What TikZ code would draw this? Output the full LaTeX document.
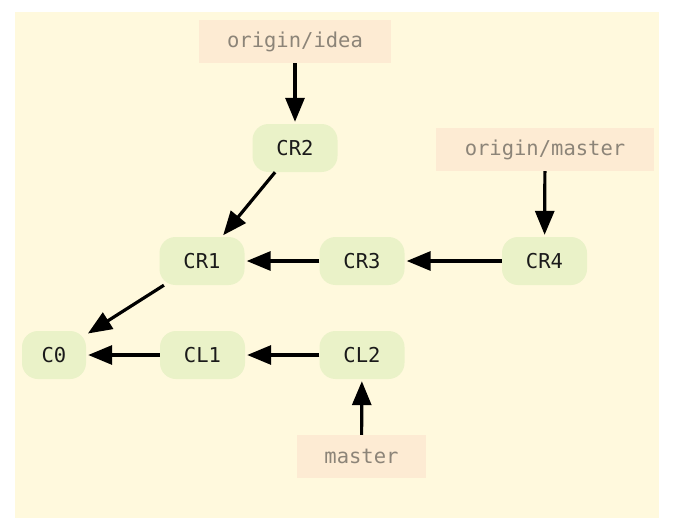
\documentclass[tikz,border=0pt]{standalone}
\usepackage{fontspec}
\usetikzlibrary{arrows.meta}
\newfontfamily\monof{DejaVu Sans Mono}
\definecolor{bgyellow}{HTML}{FFF9DD}
\definecolor{refpeach}{HTML}{FDEBD3}
\definecolor{commitgreen}{HTML}{EAF2C8}
\definecolor{reftext}{HTML}{8C8478}
\definecolor{committext}{HTML}{1A1A1A}
\begin{document}
\begin{tikzpicture}[x=1pt,y=-1pt,
  commit/.style={fill=commitgreen, rounded corners=16pt, minimum width=85pt,
    minimum height=48pt, inner sep=0pt, text=committext,
    font=\monof\fontsize{20.5}{24}\selectfont},
  refbox/.style={fill=refpeach, minimum height=43pt, inner sep=0pt, text=reftext,
    font=\monof\fontsize{20.5}{24}\selectfont},
  link/.style={line width=3.2pt, draw=black,
    -{Triangle[length=24pt,width=19pt]}, shorten >=2pt}
]
\useasboundingbox (0,0) rectangle (678,519);
\fill[bgyellow] (15,12) rectangle (659,518);

\node[refbox, minimum width=192pt] (oidea) at (295,41.5) {origin/idea};
\node[refbox, minimum width=218pt] (omaster) at (545,149.5) {origin/master};
\node[refbox, minimum width=129pt] (master) at (361.5,456.5) {master};

\node[commit] (CR2) at (295,148) {CR2};
\node[commit] (CR1) at (202,261) {CR1};
\node[commit] (CR3) at (362,261) {CR3};
\node[commit] (CR4) at (544.5,261) {CR4};
\node[commit, minimum width=64pt] (C0) at (54,355) {C0};
\node[commit] (CL1) at (202.5,355) {CL1};
\node[commit] (CL2) at (362,355) {CL2};

\draw[link] (oidea) -- (CR2);
\draw[link] (omaster) -- (CR4);
\draw[link] (CR2) -- (CR1);
\draw[link] (CR3) -- (CR1);
\draw[link] (CR4) -- (CR3);
\draw[link] (CR1) -- (C0);
\draw[link] (CL1) -- (C0);
\draw[link] (CL2) -- (CL1);
\draw[link] (master) -- (CL2);
\end{tikzpicture}
\end{document}
